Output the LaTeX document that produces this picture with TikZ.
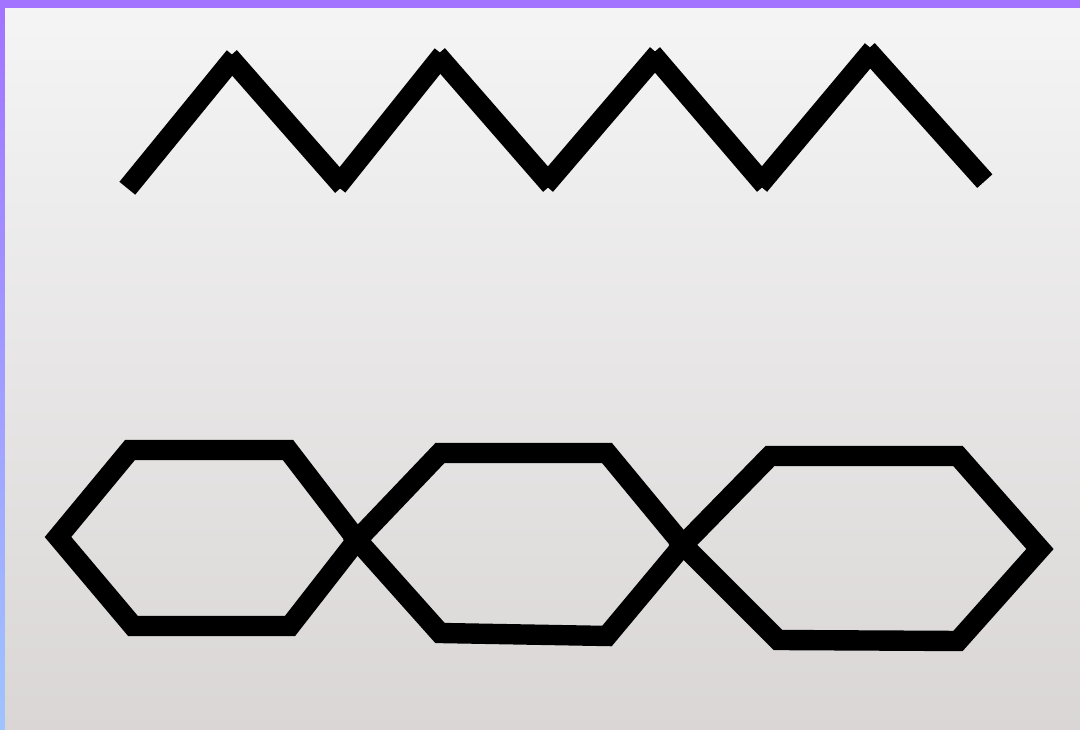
\documentclass[tikz,border=0pt]{standalone}
\usepackage{tikz}

\definecolor{frameviolet}{HTML}{A374FF}
\definecolor{frameblue}{HTML}{9FC4FF}
\definecolor{papertop}{HTML}{F5F5F5}
\definecolor{paperbottom}{HTML}{DAD6D6}

\tikzset{
	band/.style={line width=5.8pt, black},
	zig/.style={band, line cap=butt, shorten <=-1.2pt, shorten >=-1.2pt},
	hexa/.style={band, line join=miter, miter limit=10}
}

\begin{document}
\begin{tikzpicture}[x=0.1mm, y=-0.1mm]
	\useasboundingbox (0,0) rectangle (1080,730);
	% paper and frame
	\shade[top color=papertop, bottom color=paperbottom] (0,0) rectangle (1080,730);
	\fill[frameviolet] (0,0) rectangle (1080,8);
	\shade[top color=frameviolet, bottom color=frameblue] (0,8) rectangle (5,730);
	% zigzag
	\foreach \xa/\ya/\xb/\yb in {130/185/232/60, 232/60/340/183, 340/183/440/58, 440/58/548/182,
		548/182/655/57, 655/57/762/182, 762/182/870/53, 870/53/982/178} {
		\draw[zig] (\xa,\ya) -- (\xb,\yb);
	}
	% chain of hexagons
	\coordinate (k0) at (58,537);
	\coordinate (k1) at (357,540);
	\coordinate (k2) at (683,545);
	\coordinate (k3) at (1040,549);
	\draw[hexa] (k0) -- (130,450) -- (288,450) -- (k1) -- (290,626) -- (133,626) -- cycle;
	\draw[hexa] (k1) -- (440,453) -- (607,453) -- (k2) -- (607,636) -- (440,633) -- cycle;
	\draw[hexa] (k2) -- (770,456) -- (958,456) -- (k3) -- (958,641) -- (778,640) -- cycle;
\end{tikzpicture}
\end{document}
